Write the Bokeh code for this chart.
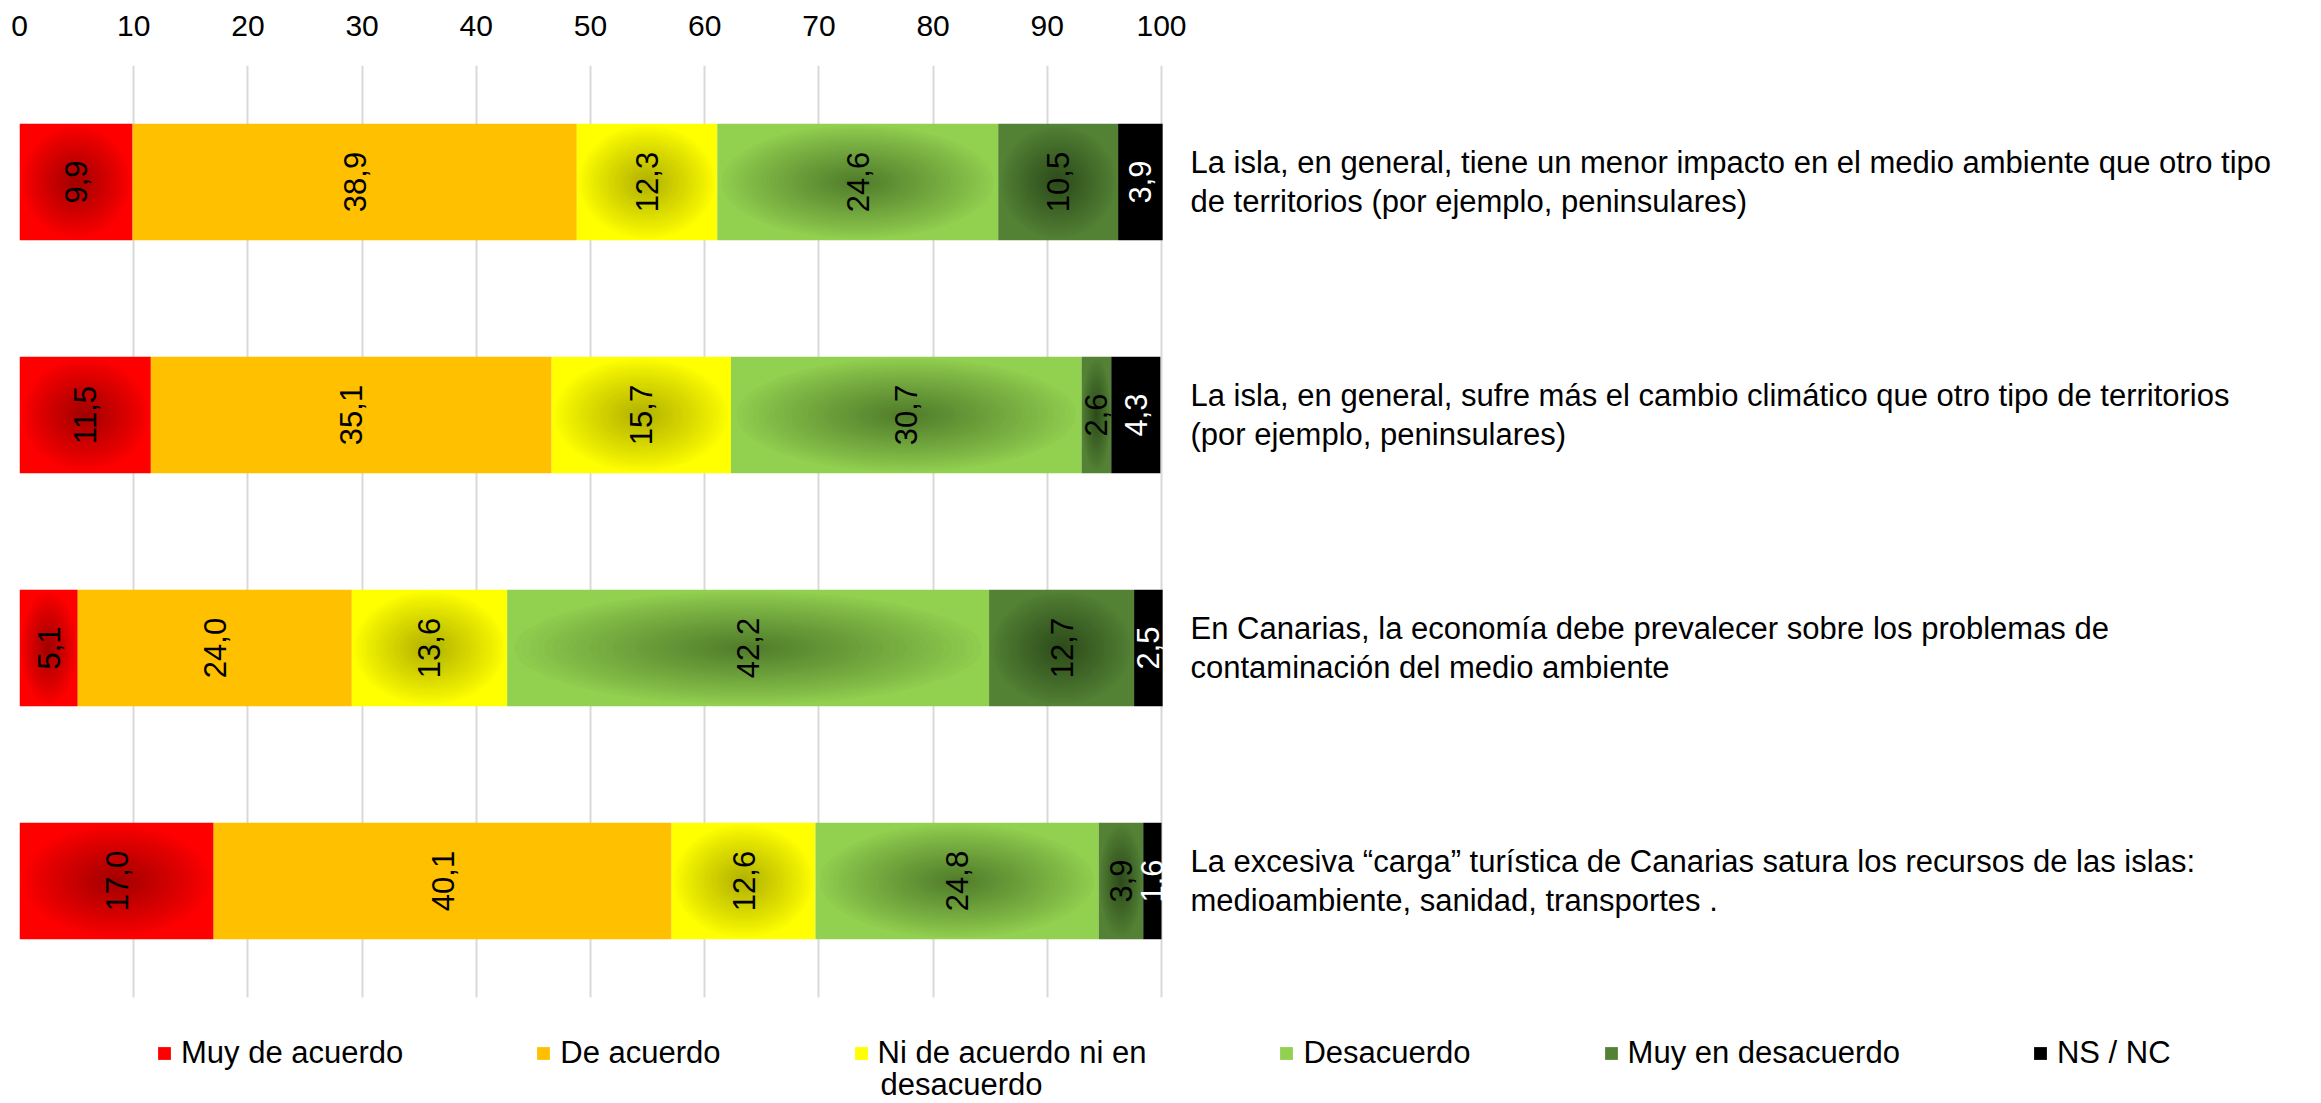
import numpy as np
from bokeh.plotting import figure
from bokeh.models import FixedTicker, Legend, LegendItem, Range1d
from bokeh.embed import file_html
from bokeh.resources import INLINE
from bokeh.core.properties import value

# ---------------- data ----------------
statements = [
    "La isla, en general, tiene un menor impacto en el medio ambiente que otro tipo\nde territorios (por ejemplo, peninsulares)",
    "La isla, en general, sufre más el cambio climático que otro tipo de territorios\n(por ejemplo, peninsulares)",
    "En Canarias, la economía debe prevalecer sobre los problemas de\ncontaminación del medio ambiente",
    "La excesiva “carga” turística de Canarias satura los recursos de las islas:\nmedioambiente, sanidad, transportes .",
]
series_names = ["Muy de acuerdo", "De acuerdo", "Ni de acuerdo ni en\ndesacuerdo",
                "Desacuerdo", "Muy en desacuerdo", "NS / NC"]
muy_de_acuerdo = [9.9, 11.5, 5.1, 17.0]
de_acuerdo = [38.9, 35.1, 24.0, 40.1]
ni_de_acuerdo_ni_en_desacuerdo = [12.3, 15.7, 13.6, 12.6]
desacuerdo = [24.6, 30.7, 42.2, 24.8]
muy_en_desacuerdo = [10.5, 2.6, 12.7, 3.9]
ns_nc = [3.9, 4.3, 2.5, 1.6]
x_ticks = [0, 10, 20, 30, 40, 50, 60, 70, 80, 90, 100]

# ---------------- styles / layout ----------------
edge_colors = ["#ff0000", "#ffc000", "#ffff00", "#92d050", "#548235", "#000000"]
center_colors = ["#a00000", "#ffc000", "#b0b000", "#4f7a2a", "#2c4a1a", "#000000"]
label_colors = ["black", "black", "black", "black", "black", "white"]
FONT = "Liberation Sans"

W, H = 2321, 1103
X0_PX, X100_PX = 19, 1161          # pixel columns of 0 and 100
TOP_PX, BOT_PX = 65, 997           # plotting band (gridlines)
N = len(statements)
band_px = (BOT_PX - TOP_PX) / N
px_per_unit = (X100_PX - X0_PX) / 100.0

all_series = [muy_de_acuerdo, de_acuerdo, ni_de_acuerdo_ni_en_desacuerdo,
              desacuerdo, muy_en_desacuerdo, ns_nc]


def hex2rgb(h):
    h = h.lstrip("#")
    return np.array([int(h[i:i + 2], 16) for i in (0, 2, 4)], dtype=float)


def lerp_hex(a, b, t):
    c = hex2rgb(a) * (1 - t) + hex2rgb(b) * t
    return "#%02x%02x%02x" % tuple(int(round(v)) for v in c)


# y: statement k at y = N-1-k (first statement on top)
ypos = np.arange(N - 1, -1, -1, dtype=float)
y_top = N - 0.5
y_bottom_band = -0.5
y_end = y_top
y_start = y_top - (H - TOP_PX) / band_px
x_end = (W - X0_PX) / px_per_unit

p = figure(width=W, height=H,
           x_range=Range1d(0, x_end), y_range=Range1d(y_start, y_end),
           x_axis_location="above", y_axis_location=None,
           toolbar_location=None, output_backend="svg",
           min_border_left=X0_PX, min_border_right=0,
           min_border_top=TOP_PX, min_border_bottom=0)
p.outline_line_color = None
p.background_fill_color = "white"

# gridlines limited to the bar band
p.xgrid.ticker = FixedTicker(ticks=x_ticks)
p.xgrid.grid_line_color = "#d9d9d9"
p.xgrid.grid_line_width = 2
p.ygrid.visible = False
try:
    p.xgrid.cross_bounds = (y_bottom_band, y_top)
except Exception:
    p.xgrid.visible = False
    p.segment(x0=x_ticks, x1=x_ticks, y0=[y_bottom_band] * len(x_ticks),
              y1=[y_top] * len(x_ticks), line_color="#d9d9d9", line_width=2)

BAR_H = 0.5
left = np.zeros(N)
NL = 32
bar_renderers = []
for i, vals in enumerate(all_series):
    vals = np.array(vals, dtype=float)
    right = left + vals
    r = p.hbar(y=ypos, left=left, right=right, height=BAR_H,
               fill_color=edge_colors[i], line_color=None)
    bar_renderers.append(r)
    mids = (left + right) / 2
    if edge_colors[i] != center_colors[i]:
        # emulate the radial gradient fill with nested ellipses
        xs, ys, ws, hs, cs = [], [], [], [], []
        for k in range(1, NL):
            s = 1 - k / NL
            t = (k / NL) ** 0.9
            col = lerp_hex(edge_colors[i], center_colors[i], t)
            for j in range(N):
                xs.append(mids[j]); ys.append(ypos[j])
                ws.append(vals[j] * s); hs.append(BAR_H * s); cs.append(col)
        p.ellipse(x=xs, y=ys, width=ws, height=hs, fill_color=cs, line_color=None)
    left = right

left = np.zeros(N)
for i, vals in enumerate(all_series):
    vals = np.array(vals, dtype=float)
    right = left + vals
    mids = (left + right) / 2
    labels = [("%.1f" % v).replace(".", ",") for v in vals]
    p.text(x=mids, y=ypos, text=labels, angle=np.pi / 2,
           text_align="center", text_baseline="middle",
           text_font=value(FONT), text_font_size="31px", text_color=label_colors[i])
    left = right

# statement labels to the right of the bars
p.text(x=[100] * N, y=ypos, text=statements, x_offset=29,
       text_align="left", text_baseline="middle", text_line_height=1.13,
       text_font=value(FONT), text_font_size="31px", text_color="black")

# top axis
p.xaxis.ticker = FixedTicker(ticks=x_ticks)
p.xaxis.axis_line_color = None
p.xaxis.major_tick_line_color = None
p.xaxis.minor_tick_line_color = None
p.xaxis.major_label_text_font = FONT
p.xaxis.major_label_text_font_size = "30px"
p.xaxis.major_label_text_color = "black"
p.xaxis.major_label_standoff = 24

# legend (single-line labels; the wrapped second line is added as text)
legend_labels = [n.split("\n")[0] for n in series_names]
items = [LegendItem(label=lab, renderers=[r]) for lab, r in zip(legend_labels, bar_renderers)]
LEG_X_PX, LEG_ROW_PX = 156, 1053
legend = Legend(items=items, orientation="horizontal",
                location=(LEG_X_PX - X0_PX, H - LEG_ROW_PX - 18),
                glyph_width=16, glyph_height=16, label_standoff=9, spacing=132,
                padding=0, margin=0, border_line_color=None, background_fill_alpha=0,
                label_height=36,
                label_text_font=FONT, label_text_font_size="31px", label_text_color="black")
p.add_layout(legend)

second_line = [n.split("\n")[1] for n in series_names if "\n" in n]
WRAP_X_PX, WRAP_Y_PX = 880, 1084
p.text(x=[(WRAP_X_PX - X0_PX) / px_per_unit], y=[y_top - (WRAP_Y_PX - TOP_PX) / band_px],
       text=second_line, text_align="left", text_baseline="middle",
       text_font=value(FONT), text_font_size="31px", text_color="black")

open("out.html", "w").write(file_html(p, INLINE))
